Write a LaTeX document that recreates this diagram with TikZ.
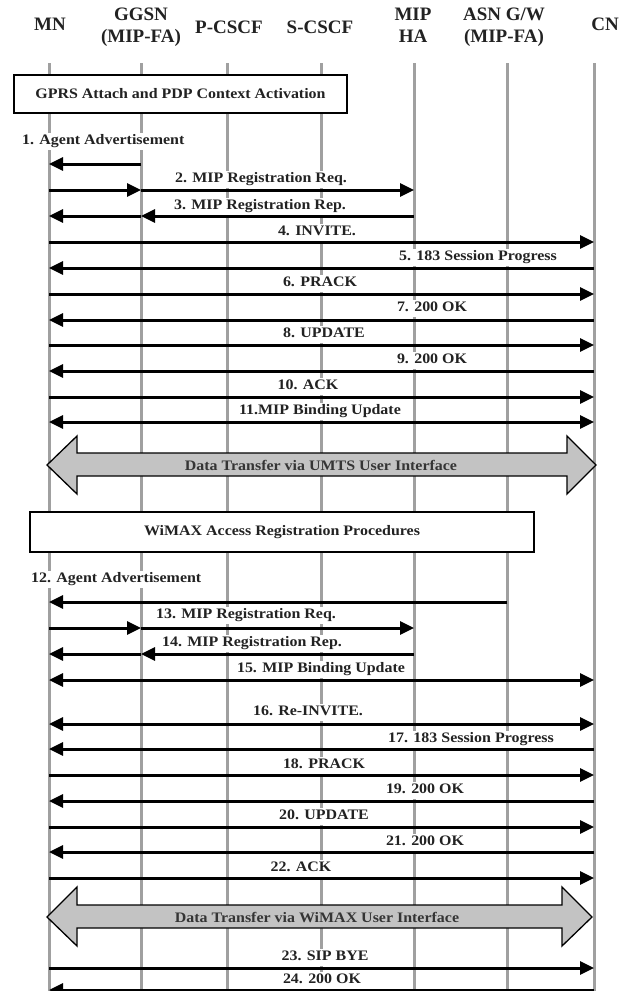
\documentclass[tikz,border=0pt]{standalone}
\usepackage{fontspec}
\setmainfont{Liberation Serif}
\newfontfamily\lblfont{Liberation Serif}[FakeStretch=1.1]
\usetikzlibrary{arrows.meta}
\definecolor{lifegray}{HTML}{A0A0A0}
\definecolor{datagray}{HTML}{C3C3C3}
\definecolor{txtdark}{HTML}{222222}
\begin{document}
\begin{tikzpicture}[x=1pt,y=-1pt,
  hdr/.style={font=\bfseries\fontsize{19}{22}\selectfont, inner sep=0pt, align=center, text=txtdark},
  lbl/.style={font=\lblfont\bfseries\fontsize{14.5}{17}\selectfont, fill=white, inner xsep=2pt, inner ysep=2pt, text height=10pt, text depth=3pt, text=txtdark},
  datatxt/.style={font=\lblfont\bfseries\fontsize{14.5}{17}\selectfont, inner sep=1pt, text=txtdark!80!gray},
  lifeline/.style={draw=lifegray, line width=3pt},
  msg/.style={draw=black, line width=3pt, -{Triangle[length=14pt,width=13pt]}},
  dmsg/.style={draw=black, line width=3pt, {Triangle[length=14pt,width=13pt]}-{Triangle[length=14pt,width=13pt]}},
  procbox/.style={draw=black, line width=1.5pt, fill=white, inner sep=0pt, font=\lblfont\bfseries\fontsize{14.5}{17}\selectfont, text=txtdark},
  bigarrow/.style={draw=black, line width=1.3pt, fill=datagray, line join=miter},
]
\useasboundingbox (0,0) rectangle (625,991);

% header nodes
\node[hdr, anchor=base]  (hMN)   at (50,30)  {MN};
\node[hdr, anchor=north] (hGGSN) at (141,8)  {GGSN\\(MIP-FA)};
\node[hdr, anchor=base]  (hP)    at (229,33) {P-CSCF};
\node[hdr, anchor=base]  (hS)    at (320,33) {S-CSCF};
\node[hdr, anchor=north] (hHA)   at (413,8)  {MIP\\HA};
\node[hdr, anchor=north] (hASN)  at (504,8)  {ASN G/W\\(MIP-FA)};
\node[hdr, anchor=base]  (hCN)   at (605,30) {CN};

% lifelines
\coordinate (mn)    at (49,63);   \coordinate (mnB)    at (49,991);
\coordinate (ggsn)  at (141,63);  \coordinate (ggsnB)  at (141,991);
\coordinate (pcscf) at (227,63);  \coordinate (pcscfB) at (227,991);
\coordinate (scscf) at (321,63);  \coordinate (scscfB) at (321,991);
\coordinate (ha)    at (414,63);  \coordinate (haB)    at (414,991);
\coordinate (asn)   at (507,63);  \coordinate (asnB)   at (507,991);
\coordinate (cn)    at (594,63);  \coordinate (cnB)    at (594,991);
\foreach \l in {mn,ggsn,pcscf,scscf,ha,asn,cn}{\draw[lifeline] (\l) -- (\l B);}

% procedure boxes
\node[procbox, minimum width=333pt, minimum height=38pt] (gprs) at (180.5,94) {GPRS Attach and PDP Context Activation};
\node[procbox, minimum width=504pt, minimum height=40pt] (wimax) at (282,532) {WiMAX Access Registration Procedures};

% data transfer arrows
\draw[bigarrow] (47,465) -- (77,436) -- (77,453) -- (567,453) -- (567,436) -- (596,465) -- (567,494) -- (567,476) -- (77,476) -- (77,494) -- cycle;
\node[datatxt] (umts) at (321,465) {Data Transfer via UMTS User Interface};
\draw[bigarrow] (47,917) -- (77,887) -- (77,905) -- (562,905) -- (562,887) -- (592,917) -- (562,946) -- (562,928) -- (77,928) -- (77,946) -- cycle;
\node[datatxt] (wmx) at (317,917) {Data Transfer via WiMAX User Interface};

% labels
\node[lbl, anchor=west] (l1) at (20,141) {1. Agent Advertisement};
\node[lbl] (l2)  at (261,179) {2. MIP Registration Req.};
\node[lbl] (l3)  at (260,206) {3. MIP Registration Rep.};
\node[lbl] (l4)  at (317,232) {4. INVITE.};
\node[lbl] (l5)  at (478,257) {5. 183 Session Progress};
\node[lbl] (l6)  at (320,283) {6. PRACK};
\node[lbl] (l7)  at (432,308) {7. 200 OK};
\node[lbl] (l8)  at (324,334) {8. UPDATE};
\node[lbl] (l9)  at (432,360) {9. 200 OK};
\node[lbl] (l10) at (308,386) {10. ACK};
\node[lbl] (l11) at (320,411) {11.MIP Binding Update};
\node[lbl, anchor=west] (l12) at (29,579) {12. Agent Advertisement};
\node[lbl] (l13) at (246,615) {13. MIP Registration Req.};
\node[lbl] (l14) at (252,643) {14. MIP Registration Rep.};
\node[lbl] (l15) at (321,669) {15. MIP Binding Update};
\node[lbl] (l16) at (308,712) {16. Re-INVITE.};
\node[lbl] (l17) at (471,739) {17. 183 Session Progress};
\node[lbl] (l18) at (324,765) {18. PRACK};
\node[lbl] (l19) at (425,790) {19. 200 OK};
\node[lbl] (l20) at (324,816) {20. UPDATE};
\node[lbl] (l21) at (425,842) {21. 200 OK};
\node[lbl] (l22) at (301,868) {22. ACK};
\node[lbl] (l23) at (325,957) {23. SIP BYE};
\node[lbl] (l24) at (322,980) {24. 200 OK};

% messages
\draw[msg] (ggsn |- 0,164) -- (mn |- 0,164);
\draw[msg] (mn |- 0,190) -- (ggsn |- 0,190);
\draw[msg] (ggsn |- 0,190) -- (ha |- 0,190);
\draw[msg] (ha |- 0,216) -- (ggsn |- 0,216);
\draw[msg] (ggsn |- 0,216) -- (mn |- 0,216);
\draw[msg] (mn |- 0,242) -- (cn |- 0,242);
\draw[msg] (cn |- 0,268) -- (mn |- 0,268);
\draw[msg] (mn |- 0,294) -- (cn |- 0,294);
\draw[msg] (cn |- 0,320) -- (mn |- 0,320);
\draw[msg] (mn |- 0,345) -- (cn |- 0,345);
\draw[msg] (cn |- 0,371) -- (mn |- 0,371);
\draw[msg] (mn |- 0,397) -- (cn |- 0,397);
\draw[dmsg] (mn |- 0,422) -- (cn |- 0,422);

\draw[msg] (asn |- 0,602) -- (mn |- 0,602);
\draw[msg] (mn |- 0,628) -- (ggsn |- 0,628);
\draw[msg] (ggsn |- 0,628) -- (ha |- 0,628);
\draw[msg] (ha |- 0,654) -- (ggsn |- 0,654);
\draw[msg] (ggsn |- 0,654) -- (mn |- 0,654);
\draw[dmsg] (mn |- 0,680) -- (cn |- 0,680);
\draw[dmsg] (mn |- 0,724) -- (cn |- 0,724);
\draw[msg] (cn |- 0,749) -- (mn |- 0,749);
\draw[msg] (mn |- 0,775) -- (cn |- 0,775);
\draw[msg] (cn |- 0,801) -- (mn |- 0,801);
\draw[msg] (mn |- 0,827) -- (cn |- 0,827);
\draw[msg] (cn |- 0,852) -- (mn |- 0,852);
\draw[msg] (mn |- 0,878) -- (cn |- 0,878);
\draw[msg] (mn |- 0,968) -- (cn |- 0,968);
\draw[msg] (cn |- 0,990) -- (mn |- 0,990);
\end{tikzpicture}
\end{document}
